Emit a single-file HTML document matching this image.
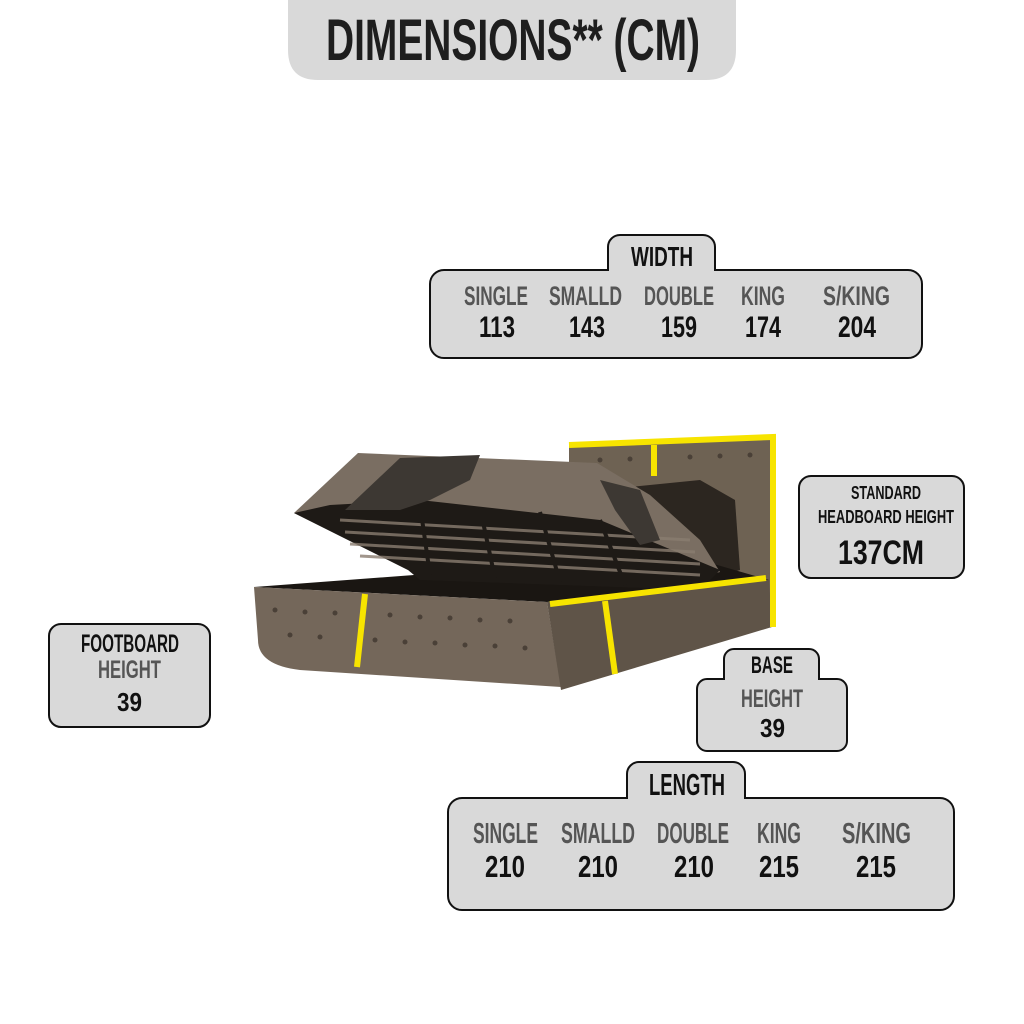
<!DOCTYPE html>
<html><head><meta charset="utf-8"><style>html,body{margin:0;padding:0;background:#fff}svg{display:block}</style></head>
<body>
<svg width="1024" height="1024" viewBox="0 0 1024 1024" xmlns="http://www.w3.org/2000/svg" font-family="Liberation Sans, sans-serif" font-weight="bold">
<rect width="1024" height="1024" fill="#fff"/>
<!-- title -->
<path d="M288 -10 H736 V50 Q736 80 706 80 H318 Q288 80 288 50 Z" fill="#d9d9d9"/>
<text x="326" y="60" font-size="58" textLength="374" lengthAdjust="spacingAndGlyphs" fill="#1e1e1e">DIMENSIONS** (CM)</text>

<!-- WIDTH box -->
<g stroke="#111" stroke-width="2" fill="#d9d9d9">
<rect x="608" y="235" width="107" height="50" rx="12"/>
<rect x="430" y="270" width="492" height="88" rx="14"/>
</g>
<rect x="609" y="266" width="105" height="10" fill="#d9d9d9"/>
<g fill="#555" font-size="27">
<text x="464" y="305" textLength="64" lengthAdjust="spacingAndGlyphs">SINGLE</text>
<text x="549" y="305" textLength="73" lengthAdjust="spacingAndGlyphs">SMALLD</text>
<text x="644" y="305" textLength="70" lengthAdjust="spacingAndGlyphs">DOUBLE</text>
<text x="741" y="305" textLength="44" lengthAdjust="spacingAndGlyphs">KING</text>
<text x="823" y="305" textLength="67" lengthAdjust="spacingAndGlyphs">S/KING</text>
</g>
<g fill="#111" font-size="30">
<text x="479" y="337" textLength="36" lengthAdjust="spacingAndGlyphs">113</text>
<text x="569" y="337" textLength="36" lengthAdjust="spacingAndGlyphs">143</text>
<text x="661" y="337" textLength="36" lengthAdjust="spacingAndGlyphs">159</text>
<text x="745" y="337" textLength="36" lengthAdjust="spacingAndGlyphs">174</text>
<text x="838" y="337" textLength="38" lengthAdjust="spacingAndGlyphs">204</text>
</g>
<text x="631" y="266" font-size="28" fill="#111" textLength="62" lengthAdjust="spacingAndGlyphs">WIDTH</text>

<!-- Bed -->
<!-- headboard -->
<polygon points="569,445 776,436 776,627 700,600 569,580" fill="#6e6253"/>
<!-- pillows -->
<polygon points="600,490 700,480 735,500 740,570 690,585 620,560" fill="#2c2620"/>
<!-- base interior -->
<polygon points="254,587 480,570 700,560 769,580 547,602" fill="#1a1612"/>
<!-- lifted platform + bedding -->
<polygon points="294,513 358,453 597,463 650,495 700,540 720,572 690,580 408,570" fill="#7a6e62"/>
<polygon points="294,513 330,505 420,500 600,520 720,570 700,590 420,580 408,570" fill="#1e1a16"/>
<g stroke="#8a7d70" stroke-width="3" opacity="0.8">
<line x1="340" y1="520" x2="690" y2="540"/>
<line x1="345" y1="532" x2="695" y2="552"/>
<line x1="350" y1="544" x2="700" y2="564"/>
<line x1="360" y1="556" x2="700" y2="575"/>
</g>
<g stroke="#1e1a16" stroke-width="4">
<line x1="420" y1="505" x2="430" y2="575"/><line x1="480" y1="508" x2="495" y2="578"/>
<line x1="540" y1="512" x2="560" y2="582"/><line x1="600" y1="520" x2="625" y2="585"/>
</g>
<!-- throw -->
<polygon points="345,510 400,458 480,455 470,480 430,500 400,510" fill="#3d3833"/>
<polygon points="600,480 640,490 660,540 640,545 615,510" fill="#3d3833"/>
<!-- base front -->
<path d="M254,587 L547,602 L561,687 L300,670 Q258,665 258,640 Z" fill="#74675a"/>
<!-- base side -->
<polygon points="547,602 769,580 772,627 561,690" fill="#5f5448"/>
<!-- tufting dots -->
<g fill="#4a4037">
<circle cx="275" cy="610" r="2.5"/><circle cx="305" cy="612" r="2.5"/><circle cx="335" cy="613" r="2.5"/><circle cx="390" cy="615" r="2.5"/><circle cx="420" cy="617" r="2.5"/><circle cx="450" cy="618" r="2.5"/><circle cx="480" cy="620" r="2.5"/><circle cx="510" cy="621" r="2.5"/>
<circle cx="290" cy="635" r="2.5"/><circle cx="320" cy="637" r="2.5"/><circle cx="375" cy="640" r="2.5"/><circle cx="405" cy="642" r="2.5"/><circle cx="435" cy="643" r="2.5"/><circle cx="465" cy="645" r="2.5"/><circle cx="495" cy="646" r="2.5"/><circle cx="525" cy="648" r="2.5"/>
<circle cx="600" cy="460" r="2.5"/><circle cx="630" cy="459" r="2.5"/><circle cx="690" cy="457" r="2.5"/><circle cx="720" cy="456" r="2.5"/><circle cx="750" cy="455" r="2.5"/>
</g>
<!-- yellow lines -->
<g stroke="#f7e400" stroke-width="6" fill="none" stroke-linecap="butt">
<polyline points="569,445 773,437 773,627"/>
<line x1="654" y1="445" x2="654" y2="476"/>
<line x1="365" y1="594" x2="357" y2="667"/>
<line x1="550" y1="604" x2="766" y2="578"/>
<line x1="605" y1="601" x2="615" y2="674"/>
</g>

<!-- Headboard box -->
<rect x="799" y="476" width="165" height="102" rx="12" fill="#d9d9d9" stroke="#111" stroke-width="2"/>
<g fill="#111">
<text x="851" y="499" font-size="18" textLength="70" lengthAdjust="spacingAndGlyphs">STANDARD</text>
<text x="818" y="523" font-size="18" textLength="136" lengthAdjust="spacingAndGlyphs">HEADBOARD HEIGHT</text>
<text x="838" y="564" font-size="34" textLength="86" lengthAdjust="spacingAndGlyphs">137CM</text>
</g>

<!-- Footboard box -->
<rect x="49" y="624" width="161" height="103" rx="12" fill="#d9d9d9" stroke="#111" stroke-width="2"/>
<text x="81" y="652" font-size="25" fill="#111" textLength="98" lengthAdjust="spacingAndGlyphs">FOOTBOARD</text>
<text x="98" y="678" font-size="25" fill="#555" textLength="63" lengthAdjust="spacingAndGlyphs">HEIGHT</text>
<text x="117" y="711" font-size="26" fill="#111" textLength="25" lengthAdjust="spacingAndGlyphs">39</text>

<!-- Base box -->
<g stroke="#111" stroke-width="2" fill="#d9d9d9">
<rect x="724" y="649" width="95" height="45" rx="10"/>
<rect x="697" y="679" width="150" height="72" rx="10"/>
</g>
<rect x="725" y="675" width="93" height="10" fill="#d9d9d9"/>
<text x="751" y="673" font-size="24" fill="#111" textLength="42" lengthAdjust="spacingAndGlyphs">BASE</text>
<text x="741" y="707" font-size="25" fill="#555" textLength="62" lengthAdjust="spacingAndGlyphs">HEIGHT</text>
<text x="760" y="737" font-size="26" fill="#111" textLength="25" lengthAdjust="spacingAndGlyphs">39</text>

<!-- LENGTH box -->
<g stroke="#111" stroke-width="2" fill="#d9d9d9">
<rect x="627" y="762" width="118" height="50" rx="12"/>
<rect x="448" y="798" width="506" height="112" rx="14"/>
</g>
<rect x="628" y="794" width="116" height="10" fill="#d9d9d9"/>
<text x="649" y="795" font-size="31" fill="#111" textLength="76" lengthAdjust="spacingAndGlyphs">LENGTH</text>
<g fill="#555" font-size="29">
<text x="473" y="843" textLength="65" lengthAdjust="spacingAndGlyphs">SINGLE</text>
<text x="561" y="843" textLength="74" lengthAdjust="spacingAndGlyphs">SMALLD</text>
<text x="657" y="843" textLength="72" lengthAdjust="spacingAndGlyphs">DOUBLE</text>
<text x="757" y="843" textLength="44" lengthAdjust="spacingAndGlyphs">KING</text>
<text x="842" y="843" textLength="69" lengthAdjust="spacingAndGlyphs">S/KING</text>
</g>
<g fill="#111" font-size="31">
<text x="485" y="877" textLength="40" lengthAdjust="spacingAndGlyphs">210</text>
<text x="578" y="877" textLength="40" lengthAdjust="spacingAndGlyphs">210</text>
<text x="674" y="877" textLength="40" lengthAdjust="spacingAndGlyphs">210</text>
<text x="759" y="877" textLength="40" lengthAdjust="spacingAndGlyphs">215</text>
<text x="856" y="877" textLength="40" lengthAdjust="spacingAndGlyphs">215</text>
</g>
</svg>
</body></html>
